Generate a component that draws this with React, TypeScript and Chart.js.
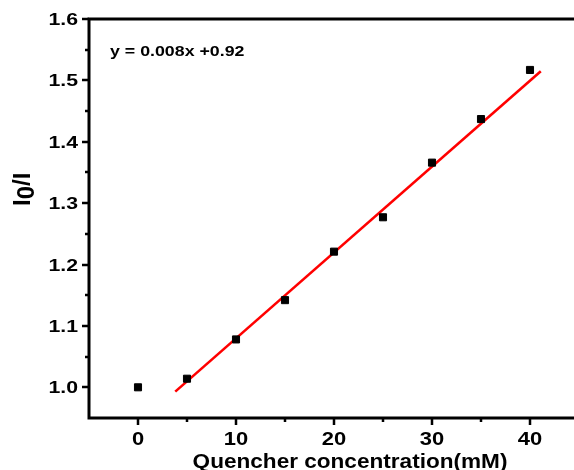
import React, { useEffect, useRef } from "react";
import { Chart, registerables } from "chart.js";

Chart.register(...registerables);

// ---- data ----
const xValues = [0, 5, 10, 15, 20, 25, 30, 35, 40];
const yValues = [1.0, 1.014, 1.078, 1.142, 1.221, 1.277, 1.366, 1.437, 1.517];
const fitX = [3.8, 41.1];
const fitY = [0.993, 1.515];
const xMajorTicks = [0, 10, 20, 30, 40];
const xTickLabels = ["0", "10", "20", "30", "40"];
const xMinorTicks = [5, 15, 25, 35];
const yMajorTicks = [1.0, 1.1, 1.2, 1.3, 1.4, 1.5, 1.6];
const yTickLabels = ["1.0", "1.1", "1.2", "1.3", "1.4", "1.5", "1.6"];
const yMinorTicks = [1.05, 1.15, 1.25, 1.35, 1.45, 1.55];
const equationText = "y = 0.008x +0.92";
const xTitle = "Quencher concentration(mM)";
const yTitleParts = ["I", "0", "/I"];

const FONT = "'Liberation Sans', Arial, sans-serif";

function drawText(
  ctx: CanvasRenderingContext2D,
  text: string,
  x: number,
  y: number,
  align: CanvasTextAlign,
  sx: number
) {
  ctx.save();
  ctx.translate(x, y);
  ctx.scale(sx, 1);
  ctx.textAlign = align;
  ctx.textBaseline = "alphabetic";
  ctx.fillText(text, 0, 0);
  ctx.restore();
}

const framePlugin = {
  id: "frame",
  afterDraw(chart: any) {
    const ctx: CanvasRenderingContext2D = chart.ctx;
    const ca = chart.chartArea;
    const xs = chart.scales.x;
    const ys = chart.scales.y;
    ctx.save();
    ctx.strokeStyle = "#000";
    ctx.fillStyle = "#000";
    ctx.lineWidth = 3;
    ctx.lineCap = "square";
    ctx.beginPath();
    ctx.moveTo(ca.right + 5, ca.top);
    ctx.lineTo(ca.left, ca.top);
    ctx.lineTo(ca.left, ca.bottom);
    ctx.lineTo(ca.right + 5, ca.bottom);
    ctx.stroke();

    ctx.lineWidth = 2.5;
    ctx.lineCap = "butt";
    ctx.beginPath();
    yMajorTicks.forEach((v) => {
      const py = Math.round(ys.getPixelForValue(v));
      ctx.moveTo(ca.left, py);
      ctx.lineTo(ca.left - 7, py);
    });
    yMinorTicks.forEach((v) => {
      const py = Math.round(ys.getPixelForValue(v));
      ctx.moveTo(ca.left, py);
      ctx.lineTo(ca.left - 4, py);
    });
    xMajorTicks.forEach((v) => {
      const px = Math.round(xs.getPixelForValue(v));
      ctx.moveTo(px, ca.bottom);
      ctx.lineTo(px, ca.bottom + 7);
    });
    xMinorTicks.forEach((v) => {
      const px = Math.round(xs.getPixelForValue(v));
      ctx.moveTo(px, ca.bottom);
      ctx.lineTo(px, ca.bottom + 4);
    });
    ctx.stroke();

    // tick labels
    ctx.font = `bold 17px ${FONT}`;
    yMajorTicks.forEach((v, i) => {
      const py = ys.getPixelForValue(v);
      drawText(ctx, yTickLabels[i], ca.left - 11, py + 6, "right", 1.25);
    });
    ctx.font = `bold 18px ${FONT}`;
    xMajorTicks.forEach((v, i) => {
      const px = xs.getPixelForValue(v);
      drawText(ctx, xTickLabels[i], px, ca.bottom + 27, "center", 1.22);
    });

    // x title
    ctx.font = `bold 21px ${FONT}`;
    drawText(ctx, xTitle, 350, 468, "center", 1.075);

    // equation
    ctx.font = `bold 14px ${FONT}`;
    drawText(ctx, equationText, 110, 56, "left", 1.27);

    // y title (rotated)
    ctx.save();
    ctx.translate(30, 206);
    ctx.rotate(-Math.PI / 2);
    ctx.font = `bold 24px ${FONT}`;
    ctx.textAlign = "left";
    ctx.textBaseline = "alphabetic";
    let cx = 0;
    ctx.fillText(yTitleParts[0], cx, 0);
    cx += ctx.measureText(yTitleParts[0]).width;
    ctx.fillText(yTitleParts[1], cx, 4);
    cx += ctx.measureText(yTitleParts[1]).width;
    ctx.fillText(yTitleParts[2], cx, 0);
    ctx.restore();

    ctx.restore();
  },
};

export default function App() {
  const ref = useRef<HTMLCanvasElement | null>(null);
  useEffect(() => {
    if (!ref.current) return;
    const chart = new Chart(ref.current, {
      type: "scatter",
      data: {
        datasets: [
          {
            label: "fit",
            data: fitX.map((x, i) => ({ x, y: fitY[i] })),
            showLine: true,
            borderColor: "#ff0000",
            borderWidth: 2.6,
            pointRadius: 0,
            order: 2,
          },
          {
            label: "data",
            data: xValues.map((x, i) => ({ x, y: yValues[i] })),
            pointStyle: "rect",
            pointRadius: 5,
            borderWidth: 1,
            backgroundColor: "#000",
            borderColor: "#000",
            order: 1,
          },
        ],
      },
      options: {
        responsive: false,
        animation: false,
        layout: { padding: { top: 19, left: 0, right: 3, bottom: 0 } },
        plugins: { legend: { display: false }, tooltip: { enabled: false } },
        scales: {
          x: {
            type: "linear",
            min: -5,
            max: 45,
            grid: { display: false },
            border: { display: false },
            ticks: { display: false },
            afterFit: (s: any) => {
              s.height = 52;
            },
          },
          y: {
            type: "linear",
            min: 0.95,
            max: 1.6,
            grid: { display: false },
            border: { display: false },
            ticks: { display: false },
            afterFit: (s: any) => {
              s.width = 89;
            },
          },
        },
      },
      plugins: [framePlugin],
    });
    return () => chart.destroy();
  }, []);
  return (
    <div
      style={{
        position: "fixed",
        left: 0,
        top: 0,
        width: 574,
        height: 470,
        overflow: "hidden",
        background: "#fff",
      }}
    >
      <canvas ref={ref} width={585} height={470} style={{ display: "block" }} />
    </div>
  );
}
